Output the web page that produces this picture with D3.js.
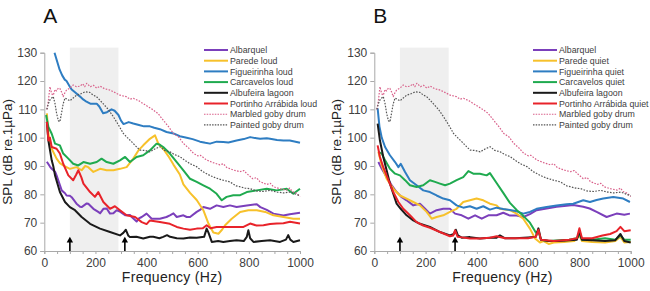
<!DOCTYPE html>
<html><head><meta charset="utf-8">
<script src="https://cdn.jsdelivr.net/npm/d3@7"></script>
<style>
body{margin:0;background:#fff;}
svg{display:block;font-family:"Liberation Sans",Arial,sans-serif;}
</style></head>
<body>
<svg id="c" width="650" height="291"></svg>
<script>
// ---------- data (frequency Hz, SPL dB) ----------
const yTicks = [60,70,80,90,100,110,120,130];
const xTicks = [0,200,400,600,800,1000];
const bandRange = [100, 290];
const arrowFreqs = [100, 315];

const marbled = [[10,110],[16,113],[22,118],[29,115.5],[35,115],[42,117],[48,116.5],[55,117.5],[61,117.4],[68,116],[74,114.5],[81,116],[87,116.8],[100,117.5],[113,118.6],[126,118],[140,118.2],[150,119],[158,118],[166,119.2],[180,118],[192,118.5],[205,117.5],[218,118.2],[235,117.3],[257,116.8],[275,116],[296,115],[320,114.5],[335,113.6],[348,113.9],[370,113],[387,112],[405,111],[426,109.8],[445,108.5],[465,106.2],[485,104],[505,101.5],[525,100.3],[544,98],[565,96.3],[583,94.5],[600,93.6],[610,93.8],[635,92.1],[660,91.2],[687,90.4],[700,90.8],[713,89.5],[739,88.6],[765,88],[780,88.4],[791,87.4],[815,85.5],[830,85.9],[843,84.5],[870,83.5],[884,83.9],[896,82.7],[920,82],[948,81.5],[960,82.2],[970,81],[987,80.4],[1000,79.2]];
const painted = [[10,110],[16,112],[22,113.3],[29,114],[35,114.5],[42,112],[48,108.6],[55,106],[61,105.6],[68,109],[74,112],[81,114],[90,113.5],[100,113],[113,114],[126,115],[146,115.6],[160,116.2],[178,116],[192,115],[204,114.5],[218,113.2],[230,112],[250,110],[270,107.4],[290,104.5],[309,101.5],[325,100],[341,98.6],[358,97],[374,95.6],[393,95.5],[413,95],[432,96],[452,96.8],[470,95.5],[491,95],[510,94],[530,93.3],[550,92],[570,90.8],[595,89.8],[620,88],[647,86.7],[670,85.8],[699,85],[726,84.4],[750,83],[764,82.7],[785,82.2],[805,82],[829,81.2],[855,81],[883,81.4],[910,80.8],[935,80.5],[961,80.8],[985,80],[1000,79.5]];

// Panel A (loud)
const albarquelA = [[10,91.5],[22,89.8],[29,89],[42,88],[48,86.7],[61,83.3],[68,81.4],[81,80.4],[87,79.6],[100,79.5],[107,79],[126,76.7],[140,75.6],[146,75.5],[166,76.8],[172,76.7],[192,74.9],[211,73.8],[218,73.3],[231,74.9],[244,75],[257,73.2],[270,73.3],[283,74.4],[296,73.9],[316,72.6],[335,72.7],[342,72],[361,70.4],[370,71.5],[381,72],[400,73.2],[420,71.4],[452,71.4],[478,72],[491,72.6],[505,73.3],[518,72],[544,72.6],[557,72],[570,72],[596,73.8],[609,74.5],[622,75.5],[648,74.9],[674,76.1],[700,75.5],[726,76.1],[752,75.5],[792,76.1],[831,76.5],[845,75.5],[870,74.5],[896,73.2],[935,72.5],[960,73],[1000,73.5]];
const paredeA = [[10,108.6],[16,101.4],[29,96.1],[48,92.6],[61,91],[74,90.2],[100,89],[126,89.6],[146,88.5],[160,90],[172,89.6],[192,87.9],[218,89],[244,88.5],[270,88.5],[296,89],[322,89.6],[348,92.6],[368,95.5],[387,97.3],[413,99.6],[433,100.8],[446,97.9],[465,96.1],[485,93.5],[505,90.5],[530,87],[544,83.5],[570,80.5],[596,78],[622,74.4],[642,69.7],[661,66.5],[681,66.1],[695,67.5],[707,69.1],[733,71.4],[766,73.8],[798,74.4],[831,74.4],[864,73.8],[896,72.6],[935,72],[974,71.4],[1000,71.4]];
const figueirinhaA = [[40,130],[50,127],[60,124],[70,122],[80,120.5],[87,120],[100,118],[107,117],[120,116],[140,114.5],[152,113.5],[165,112.7],[180,112],[205,112],[215,111],[230,108.6],[245,109],[263,110],[275,109.5],[290,108],[300,106],[310,104.8],[330,105.5],[348,105],[370,104.5],[390,104],[413,104],[430,103.5],[452,103],[478,102],[505,101.5],[530,100.5],[557,100],[580,99.5],[609,98.6],[630,98.2],[648,97.9],[674,98.6],[700,98.5],[720,98.3],[752,99],[780,99.5],[805,100.2],[830,99.8],[844,99.6],[870,99.8],[883,99.6],[910,99.2],[935,99],[960,99],[987,98.5],[1000,98.2]];
const carcavelosA = [[7,108],[16,103.8],[29,101.4],[42,97.9],[61,97.3],[74,94.4],[94,92.6],[113,90.8],[133,90.2],[153,91.4],[179,90.8],[205,91.4],[224,92.6],[244,91.4],[270,90.8],[296,92],[316,93.2],[335,91.4],[361,93.2],[387,93.8],[413,95.5],[439,97.9],[452,97.5],[465,96.7],[491,94.4],[518,91.4],[544,88.5],[570,85.5],[596,84.4],[622,83.2],[648,82],[674,80.2],[694,77.9],[713,79.1],[739,79.7],[766,79.7],[792,80.8],[831,81.4],[870,82],[909,81.4],[948,82],[974,80.2],[1000,82]];
const albufeiraA = [[10,105.6],[16,99],[29,92],[35,90],[42,86.7],[61,80.8],[81,77.3],[100,75.5],[120,74.4],[146,72],[179,69.6],[218,67.9],[257,66.7],[296,65.5],[309,66.4],[319,67.5],[328,65.5],[335,64.9],[360,65],[387,64.4],[413,65],[426,65],[450,64.5],[465,65],[480,65.6],[492,65],[518,64.5],[544,64.4],[570,64.8],[596,64.7],[625,65],[635,67.9],[642,66.5],[655,63.2],[680,63.5],[700,63.2],[726,63.5],[752,63.8],[780,63.5],[792,65],[798,67.3],[805,64.5],[818,63.2],[850,63.5],[883,63.8],[922,63.2],[945,64],[954,65.6],[962,64],[974,63.2],[1000,63.8]];
const portinhoA = [[10,105.6],[16,99],[22,100],[29,96.7],[48,96.1],[61,94.4],[74,90.8],[94,86.7],[113,85],[125,87],[133,88.5],[145,86],[153,83.8],[179,80.8],[198,79.1],[211,80.8],[231,77.3],[257,74.9],[276,75.8],[296,74.4],[322,72.6],[355,72],[381,70.2],[400,69.5],[413,70.8],[452,70.2],[491,69.6],[518,68.5],[544,67.9],[570,67.5],[596,67.9],[620,68],[635,69.1],[650,68],[674,68.5],[726,68.5],[779,68.5],[805,69.7],[830,69],[857,69.1],[883,69.5],[909,69.7],[935,69.8],[961,70.3],[1000,69.7]];

// Panel B (quiet)
const albarquelB = [[16,91.4],[29,89],[48,86.1],[68,83.2],[87,80.8],[107,79],[126,77.9],[152,76.1],[178,76.7],[198,74.9],[217,73.2],[243,74.4],[269,74.9],[295,74.9],[315,73.2],[341,72.6],[367,71.4],[393,72.6],[419,71.4],[445,72.6],[477,72.6],[503,73.5],[529,72.5],[555,72.5],[581,72],[607,73],[633,74.4],[672,75],[711,75.6],[750,76],[776,76.2],[815,75.6],[840,75],[867,73.8],[906,72],[945,73.2],[975,72.8],[997,73.2]];
const paredeB = [[16,95],[29,90.2],[48,85.5],[74,82],[100,79.6],[126,78.5],[152,77.3],[178,76.1],[204,73.8],[224,71.4],[243,72],[269,72.6],[295,73.8],[321,74.9],[347,77.3],[373,77.9],[399,78.5],[425,77.9],[451,76.7],[477,76.1],[490,74.9],[529,74.4],[555,73.2],[581,71.4],[607,67.9],[627,64.4],[646,63],[660,63.5],[680,62.5],[700,63],[740,63.2],[780,63.5],[800,65.5],[810,63.5],[850,63.2],[900,63],[940,63.5],[960,65],[975,63],[1000,63.2]];
const figueirinhaB = [[13,110.4],[20,104],[29,100],[42,96.7],[61,93.8],[81,91.4],[94,89.6],[103,90.8],[120,87.9],[139,85],[165,83.2],[191,81.4],[217,80.8],[243,79.6],[269,78.5],[295,77.9],[321,76.1],[347,75.3],[373,75.8],[399,74.9],[425,75.8],[451,74.6],[477,75.3],[503,74.8],[529,74.5],[555,74],[581,73.2],[607,73.8],[633,74.9],[672,75.5],[711,76.1],[750,76.5],[776,76.7],[815,77.9],[841,77.3],[867,78],[893,78.5],[932,79.1],[971,78.5],[997,77.3]];
const carcavelosB = [[16,95],[29,94.4],[42,92],[61,89],[81,87.3],[100,86.7],[120,85],[139,83.2],[165,82.6],[191,83.2],[217,85],[237,84.4],[256,83.8],[276,83.2],[295,83.8],[321,85],[347,86.1],[367,88.2],[386,87.3],[412,87.3],[438,86.7],[451,87.5],[477,84],[503,80.5],[529,77],[555,74.5],[580,72.5],[607,70],[630,66.5],[640,67],[650,64],[680,63.5],[720,63.8],[760,64],[790,64.5],[800,66],[810,64],[850,64],[900,64.5],[940,64],[960,65.5],[975,64],[1000,64]];
const albufeiraB = [[13,105],[22,99],[35,93.2],[48,88.5],[61,83.8],[74,80.2],[87,76.7],[103,74.9],[126,72.6],[152,70.8],[178,69.6],[217,68.5],[256,66.7],[295,65.5],[310,66],[318,67.5],[326,65.5],[341,64.7],[373,64.9],[412,64.4],[451,64.7],[477,64.7],[490,65.5],[510,64.5],[550,64.5],[600,64.8],[630,65],[640,68],[650,64],[680,63.5],[720,63.5],[760,63.8],[790,64],[800,67],[810,64],[850,63.8],[900,63.5],[940,63.8],[960,66],[975,63.5],[1000,63]];
const portinhoB = [[13,97.3],[22,93.2],[35,89.6],[55,85],[74,80.8],[94,77.3],[113,74.9],[139,72.6],[165,70.2],[191,69],[217,68.2],[256,66.7],[295,65.2],[308,65.5],[315,67.3],[325,65],[334,64.9],[373,64.4],[412,64.4],[451,64.7],[477,65.2],[510,64.5],[550,64.5],[600,64.5],[630,65],[640,67.5],[650,64],[700,63.5],[760,64],[790,64.5],[800,68],[810,64.5],[850,64.5],[890,65.5],[920,66],[945,67],[960,68.5],[975,67],[1000,67.3]];

const namesA = ["Albarquel","Parede loud","Figueirinha loud","Carcavelos loud","Albufeira lagoon","Portinho Arrábida loud","Marbled goby drum","Painted goby drum"];
const namesB = ["Albarquel","Parede quiet","Figueirinha quiet","Carcavelos quiet","Albufeira lagoon","Portinho Arrábida quiet","Marbled goby drum","Painted goby drum"];
const colors = ["#7b3fbb","#f7c12b","#2e7dc2","#1faa4f","#1a1a1a","#e8232a","#d9608a","#555555"];
const dotted = [false,false,false,false,false,false,true,true];

// ---------- drawing ----------
const svg = d3.select("#c");
const panels = [
  {label:"A", x0:44.3, x1:300, names:namesA, series:[albarquelA,paredeA,figueirinhaA,carcavelosA,albufeiraA,portinhoA,marbled,painted], legX:204, ytx:12},
  {label:"B", x0:374.3, x1:630.7, names:namesB, series:[albarquelB,paredeB,figueirinhaB,carcavelosB,albufeiraB,portinhoB,marbled,painted], legX:533, ytx:341}
];
const yTop = 52.7, yBot = 251;

panels.forEach(p => {
  const g = svg.append("g");
  const x = d3.scaleLinear().domain([0,1000]).range([p.x0,p.x1]);
  const y = d3.scaleLinear().domain([60,130]).range([yBot,yTop]);

  // grey band
  g.append("rect").attr("x",x(bandRange[0])).attr("width",x(bandRange[1])-x(bandRange[0]))
    .attr("y",y(131.8)).attr("height",y(60)-y(131.8)).attr("fill","#efefef");

  // axes
  const ya = g.append("g").attr("transform",`translate(${p.x0},0)`)
    .call(d3.axisLeft(y).tickValues(yTicks).tickSize(4).tickPadding(3).tickFormat(d3.format("d")));
  const xa = g.append("g").attr("transform",`translate(0,${yBot})`)
    .call(d3.axisBottom(x).tickValues(d3.range(0,1001,50)).tickSize(3).tickPadding(4)
      .tickFormat(d => xTicks.includes(d) ? d : ""));
  [ya,xa].forEach(a => {
    a.select(".domain").attr("stroke","#a9a9a9");
    a.selectAll(".tick line").attr("stroke","#a9a9a9");
    a.selectAll("text").attr("fill","#404040").style("font-size","12px");
  });

  // lines
  const line = d3.line().x(d=>x(d[0])).y(d=>y(d[1]));
  p.series.forEach((s,i) => {
    g.append("path").datum(s).attr("d",line).attr("fill","none")
      .attr("stroke",colors[i])
      .attr("stroke-width", dotted[i] ? 1.2 : 2)
      .attr("stroke-dasharray", dotted[i] ? "1.6,1.4" : null)
      .attr("stroke-linejoin","round");
  });

  // arrows
  arrowFreqs.forEach(f => {
    g.append("line").attr("x1",x(f)).attr("x2",x(f)).attr("y1",y(60)).attr("y2",y(63.6))
      .attr("stroke","#000").attr("stroke-width",1.6);
    g.append("path").attr("d",`M${x(f)},${y(65)} L${x(f)-3.2},${y(63)} L${x(f)+3.2},${y(63)} Z`).attr("fill","#000");
  });

  // legend
  const leg = g.append("g");
  p.names.forEach((n,i) => {
    const yy = 50 + i*10.7;
    leg.append("line").attr("x1",p.legX).attr("x2",p.legX+24).attr("y1",yy).attr("y2",yy)
      .attr("stroke",colors[i]).attr("stroke-width", dotted[i] ? 1.1 : 2)
      .attr("stroke-dasharray", dotted[i] ? "1.5,1.2" : null);
    leg.append("text").attr("x",p.legX+26).attr("y",yy+3.2).text(n)
      .attr("fill","#404040").style("font-size","8.8px");
  });

  // titles
  g.append("text").attr("x",(p.x0+p.x1)/2).attr("y",282).attr("text-anchor","middle")
    .text("Frequency (Hz)").attr("fill","#222").style("font-size","14px").style("letter-spacing","0.3px");
  g.append("text").attr("transform",`translate(${p.ytx},${(yTop+yBot)/2}) rotate(-90)`)
    .attr("text-anchor","middle").text("SPL (dB re.1µPa)").attr("fill","#222").style("font-size","13.5px");
  g.append("text").attr("x",p.x0-1).attr("y",23).text(p.label).attr("fill","#111").style("font-size","21px");
});
</script>
</body></html>
